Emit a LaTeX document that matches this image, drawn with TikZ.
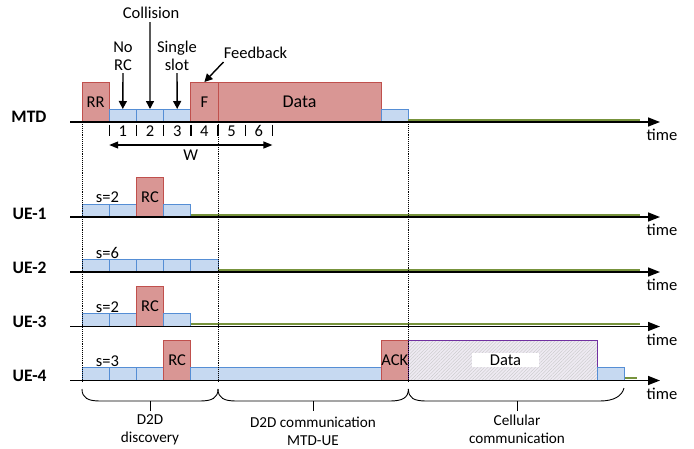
\documentclass[tikz,border=0pt]{standalone}
\usepackage{fontspec}
\setmainfont{Carlito}
\usetikzlibrary{arrows.meta,patterns.meta}
\definecolor{redfill}{HTML}{D99694}
\definecolor{redline}{HTML}{C0504D}
\definecolor{bluefill}{HTML}{C6D9F1}
\definecolor{blueline}{HTML}{558ED5}
\definecolor{greenline}{HTML}{77933C}
\definecolor{purpleline}{HTML}{7030A0}
\definecolor{hatchbg}{HTML}{EEEAF2}
\begin{document}
\begin{tikzpicture}[x=1pt,y=-1pt,
  font=\fontsize{16.5}{18}\selectfont,
  redbox/.style={draw=redline, fill=redfill, line width=0.8pt, minimum width=27.2pt,
    minimum height=40pt, inner sep=0pt, outer sep=0pt, anchor=south west},
  slotbox/.style={draw=blueline, fill=bluefill, line width=0.8pt, minimum width=27.2pt,
    minimum height=13pt, inner sep=0pt, outer sep=0pt, anchor=south west},
  axisline/.style={line width=1.5pt, -{Triangle[length=12pt,width=9pt]}},
  idle/.style={draw=greenline, line width=2pt},
  dotline/.style={densely dotted, line width=0.9pt},
  tickline/.style={line width=1.4pt},
  callout/.style={line width=1.4pt, -{Triangle[length=8pt,width=8pt]}},
  rowlbl/.style={font=\fontsize{17.5}{19}\selectfont\bfseries, anchor=east},
  timelbl/.style={font=\fontsize{16.5}{18}\selectfont},
  bracelbl/.style={font=\fontsize{15.2}{18}\selectfont, align=center},
  bracepath/.style={line width=0.9pt},
]
\useasboundingbox (0,0) rectangle (694,448);

% ---------------- MTD ----------------
\node[redbox] (rr) at (82,122) {RR};
\foreach \i/\x in {1/109.2, 2/136.4, 3/163.6}
  \node[slotbox] (m\i) at (\x,122) {};
\node[redbox] (F) at (190.8,122) {F};
\node[redbox, minimum width=163.2pt, font=\fontsize{18}{20}\selectfont] (mdata) at (218,122) {Data};
\node[slotbox] (m7) at (381.2,122) {};
\draw[idle] (408.4,119.6) -- (640,119.6);
\coordinate (a0s) at (70,122);
\coordinate (a0e) at (660,122);
\draw[axisline] (a0s) -- (a0e);
\node[rowlbl] (lmtd) at (50,117) {MTD};
\node[timelbl] (t0) at (662,135) {time};

% ticks and slot numbers
\foreach \x in {109.2,136.4,163.6,190.8,218,245.2,272.4}
  \draw[tickline] (\x,124.5) -- (\x,136);
\foreach \n/\x in {1/122.8,2/150,3/177.2,4/204.4,5/231.6,6/258.8}
  \node (n\n) at (\x,131) {\n};
\coordinate (wl) at (109.2,145);
\coordinate (wr) at (272.4,145);
\draw[line width=1.2pt, {Triangle[length=9pt,width=7pt]}-{Triangle[length=9pt,width=7pt]}] (wl) -- (wr);
\node (wlbl) at (190.8,155) {W};

% callouts
\node (coll) at (151,12.5) {Collision};
\draw[callout] (150,22) -- (m2.north);
\node[align=center] (norc) at (123,56) {No\\RC};
\draw[callout] (123,73) -- (m1.north);
\node[align=center] (single) at (177,56) {Single\\slot};
\draw[callout] (177,73) -- (m3.north);
\node (fb) at (255.5,53) {Feedback};
\coordinate (fbs) at (223.5,62);
\draw[callout] (fbs) -- (F.north);

% ---------------- UE-1 ----------------
\node[slotbox] (u1a) at (82,217) {};
\node[slotbox] (u1b) at (109.2,217) {};
\node[redbox] (u1rc) at (136.4,217) {RC};
\node[slotbox] (u1c) at (163.6,217) {};
\draw[idle] (190.8,214.6) -- (640,214.6);
\draw[axisline] (70,217) -- (660,217);
\node[rowlbl] (lue1) at (50,214) {UE-1};
\node[timelbl] (t1) at (662,230) {time};
\node (s1) at (107.5,197.5) {s=2};

% ---------------- UE-2 ----------------
\foreach \i/\x in {1/82, 2/109.2, 3/136.4, 4/163.6, 5/190.8}
  \node[slotbox] (u2\i) at (\x,272) {};
\draw[idle] (218,269.6) -- (640,269.6);
\draw[axisline] (70,272) -- (660,272);
\node[rowlbl] (lue2) at (50,268) {UE-2};
\node[timelbl] (t2) at (662,285) {time};
\node (s2) at (107.5,252.5) {s=6};

% ---------------- UE-3 ----------------
\node[slotbox] (u3a) at (82,326.5) {};
\node[slotbox] (u3b) at (109.2,326.5) {};
\node[redbox] (u3rc) at (136.4,326.5) {RC};
\node[slotbox] (u3c) at (163.6,326.5) {};
\draw[idle] (190.8,324.1) -- (640,324.1);
\draw[axisline] (70,326.5) -- (660,326.5);
\node[rowlbl] (lue3) at (50,322) {UE-3};
\node[timelbl] (t3) at (662,339.5) {time};
\node (s3) at (107.5,307) {s=2};

% ---------------- UE-4 ----------------
\node[slotbox] (u4a) at (82,380.5) {};
\node[slotbox] (u4b) at (109.2,380.5) {};
\node[slotbox] (u4c) at (136.4,380.5) {};
\node[redbox] (u4rc) at (163.6,380.5) {RC};
\node[slotbox, minimum width=190.4pt] (u4long) at (190.8,380.5) {};
\node[redbox] (ack) at (381.2,380.5) {ACK};
\node[draw=purpleline, line width=0.8pt, preaction={fill=hatchbg},
  pattern={Lines[angle=45,distance=2.4pt,line width=0.35pt]}, pattern color=gray!45,
  minimum width=188.6pt, minimum height=40pt, inner sep=0pt, outer sep=0pt,
  anchor=south west] (cdata) at (408.4,380.5) {};
\node[fill=white, minimum width=67pt, minimum height=14pt, inner sep=0pt] (cdlbl) at (505.5,360) {Data};
\node[slotbox, minimum width=27.6pt] (u4end) at (597,380.5) {};
\draw[idle] (624.6,378.1) -- (637,378.1);
\draw[axisline] (70,380.5) -- (660,380.5);
\node[rowlbl] (lue4) at (50,376) {UE-4};
\node[timelbl] (t4) at (662,394) {time};
\node (s4) at (107.5,361) {s=3};

% dotted separators
\draw[dotline] (82,124) -- (82,381);
\draw[dotline] (218,124) -- (218,381);
\draw[dotline] (408.4,124) -- (408.4,381);

% braces
\draw[bracepath] (82,389) .. controls (82,398) and (88,401) .. (100,401) -- (200,401)
  .. controls (212,401) and (218,398) .. (218,389);
\draw[bracepath] (150,401) -- (150,411);
\draw[bracepath] (218,389) .. controls (218,398) and (224,401) .. (236,401) -- (390,401)
  .. controls (402,401) and (408.4,398) .. (408.4,389);
\draw[bracepath] (313,401) -- (313,411);
\draw[bracepath] (408.4,389) .. controls (408.4,398) and (414,401) .. (426,401) -- (600,401)
  .. controls (614,401) and (622,396) .. (624,388);
\draw[bracepath] (517,401) -- (517,411);
\node[bracelbl] (b1) at (150,429.5) {D2D\\discovery};
\node[bracelbl] (b2) at (313,431) {D2D communication\\MTD-UE};
\node[bracelbl] (b3) at (517,429) {Cellular\\communication};
\end{tikzpicture}
\end{document}
